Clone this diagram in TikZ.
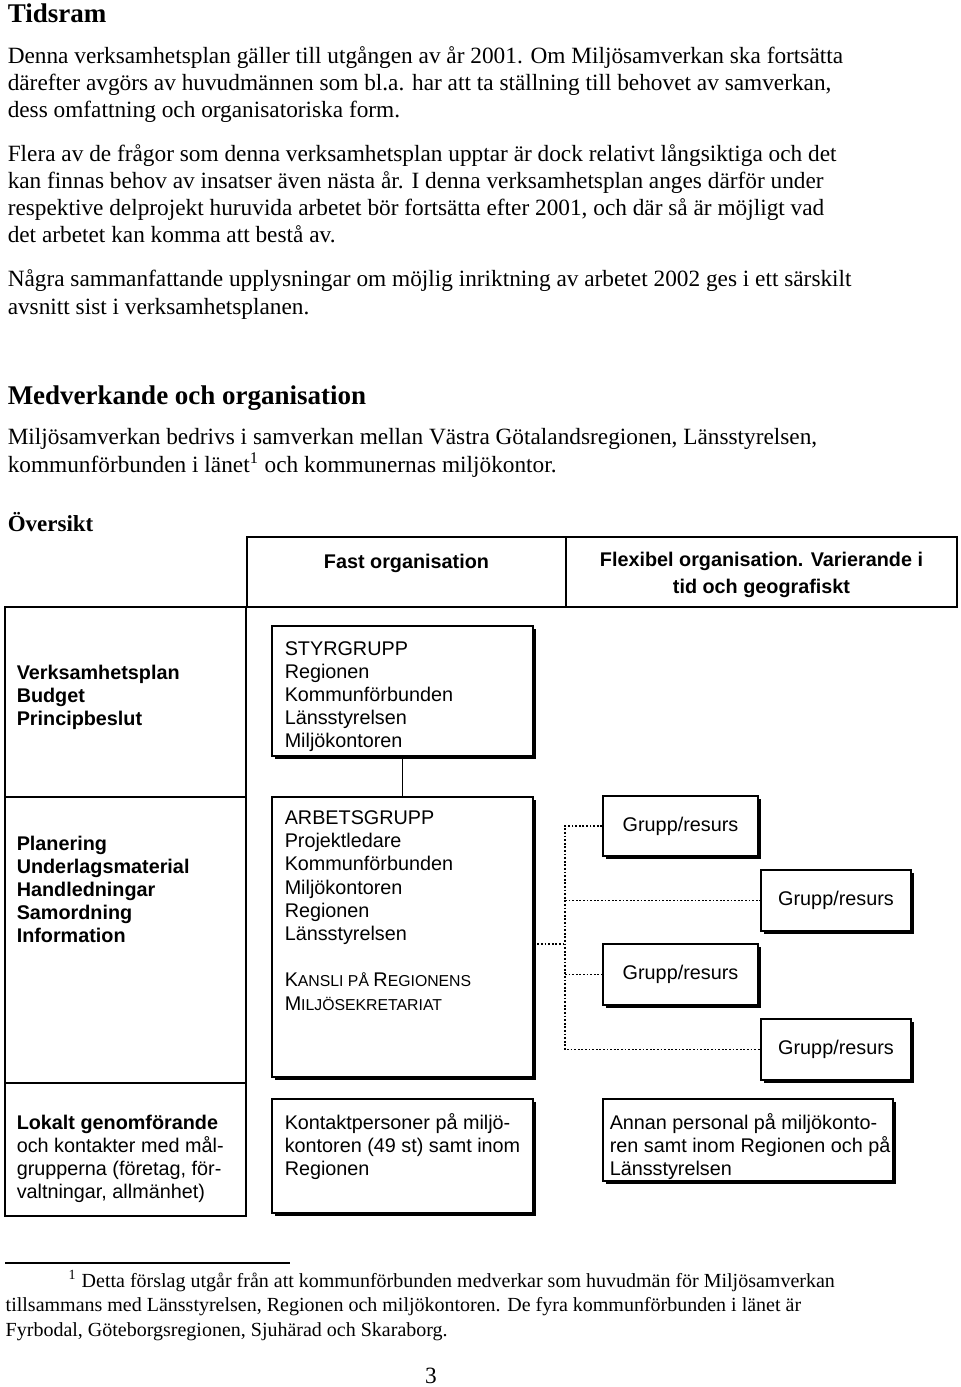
\documentclass[tikz,border=0pt]{standalone}
\usepackage{fontspec}
\setmainfont{Liberation Serif}
\setsansfont{Liberation Sans}
\usetikzlibrary{shadows}

\newcommand{\bodyfont}{\fontsize{11.65}{13.6}\selectfont}
\newcommand{\boxfont}{\sffamily\fontsize{9.9}{11.6}\selectfont}
\newcommand{\fakesc}[2]{#1{\fontsize{7.9}{9}\selectfont #2}}

\begin{document}
\begin{tikzpicture}[x=0.5pt, y=-0.5pt, line width=0.75pt,
	every node/.style={inner sep=0pt},
	para/.style={anchor=base west, align=left, font=\bodyfont},
	cell/.style={draw, rectangle},
	shadowbox/.style={draw, rectangle, fill=white,
		drop shadow={fill=black, opacity=1, shadow xshift=1.5pt, shadow yshift=-1.5pt}},
	boxtext/.style={anchor=base west, align=left, font=\boxfont},
	dots/.style={line width=0.9pt, dash pattern=on 0.9pt off 0.9pt}]
	\useasboundingbox (0,0) rectangle (960,1387);

	% text of the page (y = baseline of last line)
	\node[para, font=\fontsize{13.5}{16}\selectfont\bfseries] (tidsram) at (7,22) {Tidsram};
	\node[para] (p1) at (7,117.4) {Denna verksamhetsplan gäller till utgången av år 2001. Om Miljösamverkan ska fortsätta\\därefter avgörs av huvudmännen som bl.a. har att ta ställning till behovet av samverkan,\\dess omfattning och organisatoriska form.};
	\node[para] (p2) at (7,242.6) {Flera av de frågor som denna verksamhetsplan upptar är dock relativt långsiktiga och det\\kan finnas behov av insatser även nästa år. I denna verksamhetsplan anges därför under\\respektive delprojekt huruvida arbetet bör fortsätta efter 2001, och där så är möjligt vad\\det arbetet kan komma att bestå av.};
	\node[para] (p3) at (7,314) {Några sammanfattande upplysningar om möjlig inriktning av arbetet 2002 ges i ett särskilt\\avsnitt sist i verksamhetsplanen.};
	\node[para, font=\fontsize{13.5}{16}\selectfont\bfseries] (medverk) at (7,404) {Medverkande och organisation};
	\node[para] (p4) at (7,472) {Miljösamverkan bedrivs i samverkan mellan Västra Götalandsregionen, Länsstyrelsen,\\kommunförbunden i länet\textsuperscript{1} och kommunernas miljökontor.};
	\node[para, font=\fontsize{11.5}{14}\selectfont\bfseries] (oversikt) at (7,531) {Översikt};

	% header row
	\node[cell, minimum width=159.5pt, minimum height=35pt] (fast) at (406.5,572) {};
	\node[cell, minimum width=195.5pt, minimum height=35pt] (flex) at (761.5,572) {};
	\node[font=\boxfont\bfseries] at (406.5,563) {Fast organisation};
	\node[font=\sffamily\bfseries\fontsize{9.9}{13.5}\selectfont, align=center] at (761.5,575) {Flexibel organisation. Varierande i\\tid och geografiskt};

	% left column
	\node[cell, minimum width=120.5pt, minimum height=95pt] (lvl1) at (125.5,702) {};
	\node[cell, minimum width=120.5pt, minimum height=143pt] (lvl2) at (125.5,940) {};
	\node[cell, minimum width=120.5pt, minimum height=66.5pt] (lvl3) at (125.5,1149.5) {};
	\node[boxtext, font=\boxfont\bfseries] at (16,725.4) {Verksamhetsplan\\Budget\\Principbeslut};
	\node[boxtext, font=\boxfont\bfseries] at (16,942.8) {Planering\\Underlagsmaterial\\Handledningar\\Samordning\\Information};
	\node[boxtext] at (16,1198.6) {\textbf{Lokalt genomförande}\\och kontakter med mål-\\grupperna (företag, för-\\valtningar, allmänhet)};

	% fixed organisation
	\node[shadowbox, minimum width=130.5pt, minimum height=65pt] (styr) at (402.5,691) {};
	\node[shadowbox, minimum width=130.5pt, minimum height=140pt] (arbets) at (402.5,937) {};
	\node[shadowbox, minimum width=130.5pt, minimum height=57pt] (kontakt) at (402.5,1156) {};
	\node[boxtext] at (284,747.8) {STYRGRUPP\\Regionen\\Kommunförbunden\\Länsstyrelsen\\Miljökontoren};
	\node[boxtext] at (284,1010) {ARBETSGRUPP\\Projektledare\\Kommunförbunden\\Miljökontoren\\Regionen\\Länsstyrelsen\\[11.6pt]\fakesc{K}{ANSLI PÅ }\fakesc{R}{EGIONENS}\\\fakesc{M}{ILJÖSEKRETARIAT}};
	\node[boxtext] at (284,1175.4) {Kontaktpersoner på miljö-\\kontoren (49 st) samt inom\\Regionen};

	% flexible organisation
	\node[shadowbox, minimum width=77.5pt, minimum height=30pt, font=\boxfont] (g1) at (680.5,826) {Grupp/resurs};
	\node[shadowbox, minimum width=75pt, minimum height=30.5pt, font=\boxfont] (g2) at (836,900.5) {Grupp/resurs};
	\node[shadowbox, minimum width=77.5pt, minimum height=30.5pt, font=\boxfont] (g3) at (680.5,974.5) {Grupp/resurs};
	\node[shadowbox, minimum width=75pt, minimum height=30.5pt, font=\boxfont] (g4) at (836,1049.5) {Grupp/resurs};
	\node[shadowbox, minimum width=145pt, minimum height=41pt] (annan) at (748,1140) {};
	\node[boxtext] at (609,1175.4) {Annan personal på miljökonto-\\ren samt inom Regionen och på\\Länsstyrelsen};

	% connectors
	\draw (styr.south) -- (arbets.north);
	\coordinate (hub) at (565,944);
	\draw[dots] (arbets.east |- hub) -- (hub);
	\draw[dots] (g1.west) -| (hub) |- (g4.west);
	\draw[dots] (hub |- g2.west) -- (g2.west);
	\draw[dots] (hub |- g3.west) -- (g3.west);

	% footnote
	\draw (5,1263) -- (290,1263);
	\node[para, font=\fontsize{10}{12.25}\selectfont] (fotnot) at (5,1336) {\hspace*{31.5pt}\textsuperscript{1} Detta förslag utgår från att kommunförbunden medverkar som huvudmän för Miljösamverkan\\tillsammans med Länsstyrelsen, Regionen och miljökontoren. De fyra kommunförbunden i länet är\\Fyrbodal, Göteborgsregionen, Sjuhärad och Skaraborg.};
	\node[anchor=base, font=\bodyfont] (sidnr) at (431,1383) {3};
\end{tikzpicture}
\end{document}
